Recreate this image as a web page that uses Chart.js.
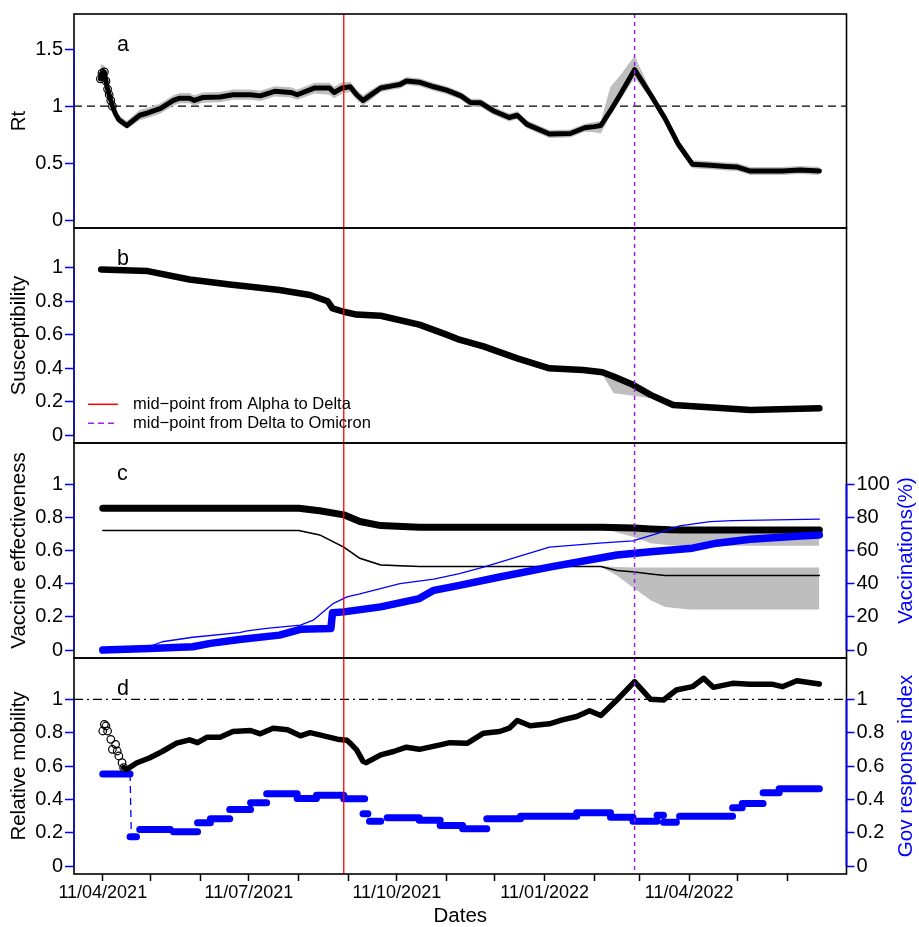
<!DOCTYPE html>
<html>
<head>
<meta charset="utf-8">
<title>Rt, susceptibility, vaccination and mobility</title>
<script src="https://cdn.jsdelivr.net/npm/chart.js@4.4.0/dist/chart.umd.min.js"></script>
<style>
  body { margin: 0; background: #fff; width: 919px; height: 927px; overflow: hidden; position: relative; }
  canvas { position: absolute; left: 0; }
</style>
</head>
<body>
<canvas id="panelA" width="919" height="243" style="top:0px"></canvas>
<canvas id="panelB" width="919" height="245" style="top:213px"></canvas>
<canvas id="panelC" width="919" height="245" style="top:428px"></canvas>
<canvas id="panelD" width="919" height="284" style="top:643px"></canvas>
<script>
const FONT = "'Liberation Sans', Arial, Helvetica, sans-serif";
Chart.defaults.font.family = FONT;
Chart.defaults.color = "#000";

const BLUE = "#0000FF", GREY = "#BEBEBE", PURPLE = "#A020F0";

// x axis: days since 11/04/2021
const X_MIN = -17.9, X_MAX = 462.9;
const tickDays = [0, 30, 61, 91, 122, 153, 183, 214, 244, 275, 306, 334, 365, 395, 426];
const tickLabels = ["11/04/2021", "", "", "11/07/2021", "", "", "11/10/2021", "", "",
    "11/01/2022", "", "", "11/04/2022", "", ""];

// variant mid-points
const alphaDeltaDay = 150;
const deltaOmicronDay = 331;

// a: Rt
const rtDays = [-1.5, -0.5, 0, 1, 2, 3, 4, 5, 6, 8, 10, 15, 23, 28, 36, 44, 48, 54, 57, 62, 73, 81, 92, 98, 107,
    117, 121, 132, 141, 144, 149, 154, 158, 162, 166, 173, 181, 185, 189, 197, 206, 214, 223, 229, 235, 243,
    253, 258, 264, 278, 291, 300, 306, 310, 316, 322, 331, 341, 350, 358, 367, 378, 388, 395, 403, 423, 434, 446];
const rtValues = [1.24, 1.29, 1.27, 1.30, 1.22, 1.15, 1.10, 1.05, 1.00, 0.93, 0.88, 0.83, 0.92, 0.94, 0.98, 1.05,
    1.07, 1.07, 1.05, 1.075, 1.08, 1.10, 1.10, 1.09, 1.13, 1.12, 1.10, 1.16, 1.16, 1.12, 1.16, 1.17, 1.10, 1.05,
    1.09, 1.16, 1.18, 1.19, 1.22, 1.21, 1.17, 1.14, 1.09, 1.03, 1.03, 0.96, 0.90, 0.92, 0.84, 0.755, 0.76, 0.81,
    0.82, 0.83, 0.96, 1.10, 1.32, 1.10, 0.89, 0.67, 0.49, 0.48, 0.47, 0.465, 0.43, 0.43, 0.44, 0.43];
const rtLow = [1.20, 1.22, 1.22, 1.22, 1.16, 1.10, 1.05, 1.00, 0.96, 0.89, 0.845, 0.80, 0.875, 0.895, 0.935,
    1.005, 1.025, 1.025, 1.005, 1.03, 1.035, 1.055, 1.055, 1.045, 1.085, 1.075, 1.055, 1.11, 1.10, 1.07, 1.11,
    1.125, 1.055, 1.005, 1.045, 1.125, 1.145, 1.155, 1.185, 1.175, 1.135, 1.105, 1.055, 0.995, 0.995, 0.925,
    0.865, 0.885, 0.805, 0.72, 0.725, 0.775, 0.77, 0.76, 0.92, 1.05, 1.25, 1.065, 0.855, 0.635, 0.455, 0.445,
    0.435, 0.43, 0.395, 0.395, 0.405, 0.395];
const rtHigh = [1.36, 1.37, 1.36, 1.36, 1.30, 1.22, 1.16, 1.10, 1.05, 0.97, 0.92, 0.87, 0.965, 0.985, 1.025,
    1.095, 1.115, 1.115, 1.095, 1.12, 1.125, 1.145, 1.145, 1.135, 1.175, 1.165, 1.145, 1.205, 1.205, 1.17, 1.21,
    1.215, 1.145, 1.095, 1.135, 1.195, 1.215, 1.225, 1.255, 1.245, 1.205, 1.175, 1.125, 1.065, 1.065, 0.995,
    0.935, 0.955, 0.875, 0.79, 0.795, 0.845, 0.86, 0.87, 1.17, 1.27, 1.44, 1.14, 0.925, 0.705, 0.525, 0.515,
    0.505, 0.50, 0.465, 0.465, 0.475, 0.465];

// b: susceptibility
const susDays = [-1, 28, 54, 79, 92, 110, 129, 140, 143, 150, 158, 173, 197, 214, 222, 237, 258, 278, 299,
    311, 318, 330, 341, 355, 382, 403, 446];
const susValues = [0.99, 0.98, 0.93, 0.90, 0.886, 0.867, 0.837, 0.80, 0.757, 0.737, 0.72, 0.713, 0.66, 0.60,
    0.57, 0.53, 0.458, 0.399, 0.389, 0.375, 0.35, 0.30, 0.24, 0.18, 0.163, 0.15, 0.16];
const susLow = [0.98, 0.97, 0.92, 0.89, 0.876, 0.857, 0.827, 0.79, 0.743, 0.72, 0.70, 0.695, 0.64, 0.58,
    0.55, 0.51, 0.44, 0.38, 0.375, 0.362, 0.25, 0.235, 0.22, 0.17, 0.155, 0.142, 0.152];
const susHigh = [1.0, 0.99, 0.94, 0.91, 0.896, 0.877, 0.847, 0.81, 0.767, 0.745, 0.73, 0.72, 0.67, 0.61, 0.58,
    0.54, 0.466, 0.405, 0.395, 0.38, 0.36, 0.31, 0.25, 0.20, 0.175, 0.16, 0.17];

// c: vaccine effectiveness (left) and vaccinations in % (right)
const veHighDays = [0, 122, 135, 150, 160, 173, 197, 310, 331, 341, 353, 362, 446];
const veHighValues = [0.855, 0.855, 0.84, 0.815, 0.775, 0.75, 0.74, 0.74, 0.735, 0.73, 0.725, 0.724, 0.724];
const veHighLow = [0.85, 0.85, 0.835, 0.81, 0.77, 0.745, 0.735, 0.735, 0.68, 0.644, 0.632, 0.628, 0.628];
const veHighHigh = [0.86, 0.86, 0.845, 0.82, 0.78, 0.755, 0.745, 0.745, 0.743, 0.742, 0.742, 0.742, 0.742];

const veLowDays = [0, 122, 135, 150, 160, 173, 197, 310, 320, 331, 341, 350, 365, 446];
const veLowValues = [0.72, 0.72, 0.694, 0.62, 0.553, 0.513, 0.503, 0.503, 0.479, 0.47, 0.458, 0.449, 0.449, 0.449];
const veLowLow = [0.718, 0.718, 0.69, 0.615, 0.548, 0.508, 0.50, 0.50, 0.45, 0.37, 0.30, 0.26, 0.245, 0.245];
const veLowHigh = [0.722, 0.722, 0.698, 0.625, 0.558, 0.518, 0.506, 0.506, 0.50, 0.497, 0.497, 0.497, 0.497, 0.497];

const vaxThinDays = [0, 29, 37, 56, 85, 90, 102, 123, 131, 143, 152, 160, 185, 206, 222, 237, 278, 309, 330,
    347, 359, 378, 392, 446];
const vaxThinValues = [0, 2, 5, 7.7, 10.5, 11.5, 13, 15, 18, 27.8, 32, 33.8, 40, 42.7, 46, 50, 62, 64.4, 65.8,
    70.8, 74.8, 77.4, 78, 78.9];
const vaxThickDays = [0, 29, 56, 67, 85, 110, 123, 142, 143, 150, 173, 197, 206, 222, 247, 278, 320, 341, 367,
    382, 403, 434, 446];
const vaxThickValues = [0, 1, 2, 4, 6.4, 9, 12.5, 13, 22.5, 23, 26, 31, 36, 39, 44, 50, 57.3, 59.3, 61.4, 64.4,
    66.8, 68.8, 69.4];

// d: relative mobility (left) and government response index (right)
const mobDays = [0, 1, 2, 3, 5, 6, 8, 9, 10, 12, 13, 15, 21, 29, 37, 46, 54, 59, 65, 73, 81, 92, 98, 106, 115,
    123, 129, 135, 146, 152, 154, 158, 162, 164, 173, 181, 189, 197, 210, 216, 227, 237, 247, 253, 258, 266,
    278, 286, 295, 303, 310, 320, 331, 341, 349, 357, 367, 374, 380, 392, 403, 417, 423, 432, 446];
const mobValues = [0.81, 0.85, 0.84, 0.81, 0.76, 0.70, 0.73, 0.69, 0.66, 0.62, 0.59, 0.58, 0.618, 0.648, 0.687,
    0.737, 0.757, 0.74, 0.773, 0.773, 0.807, 0.813, 0.793, 0.827, 0.817, 0.781, 0.80, 0.787, 0.761, 0.755,
    0.737, 0.697, 0.628, 0.62, 0.667, 0.687, 0.713, 0.70, 0.727, 0.74, 0.737, 0.797, 0.807, 0.827, 0.873,
    0.841, 0.853, 0.877, 0.897, 0.932, 0.903, 0.996, 1.106, 1.0, 0.996, 1.056, 1.076, 1.126, 1.072, 1.096,
    1.09, 1.09, 1.076, 1.112, 1.092];

// government response index, one entry per constant stretch
const govStart = [0, 17, 23, 44, 59, 67, 79, 92, 102, 121, 133, 150, 162, 166, 177, 197, 210, 224, 239, 260,
    295, 316, 330, 345, 349, 359, 392, 398, 411, 421];
const govEnd = [17, 21, 42, 59, 67, 79, 92, 102, 121, 133, 150, 163, 165, 173, 197, 210, 224, 239, 260, 295,
    316, 330, 345, 349, 357, 392, 398, 411, 421, 446];
const govLevel = [0.552, 0.175, 0.219, 0.205, 0.259, 0.283, 0.339, 0.379, 0.434, 0.405, 0.424, 0.403, 0.313,
    0.269, 0.289, 0.275, 0.243, 0.223, 0.283, 0.299, 0.319, 0.293, 0.269, 0.305, 0.263, 0.299, 0.349, 0.375,
    0.439, 0.463];

const pts = (xs, ys) => xs.map((x, i) => ({ x: x, y: ys[i] }));

// grey confidence band: lower edge, then upper edge filled down to it
const band = (xs, lo, hi, axis) => [
    { data: pts(xs, lo), yAxisID: axis, borderWidth: 0, borderColor: "rgba(0,0,0,0)", fill: false, order: 9 },
    { data: pts(xs, hi), yAxisID: axis, borderWidth: 0, borderColor: "rgba(0,0,0,0)", fill: "-1",
      backgroundColor: GREY, order: 9 }
];

const govPoints = [];
govStart.forEach((s, i) => {
    govPoints.push({ x: s, y: govLevel[i] }, { x: govEnd[i], y: govLevel[i] }, { x: govEnd[i], y: null });
});

const xAxis = (show) => ({
    type: "linear", display: show, min: X_MIN, max: X_MAX, bounds: "data",
    afterBuildTicks: (s) => { s.ticks = tickDays.map((v) => ({ value: v })); },
    afterFit: (s) => { s.height = show ? 53 : 0; },
    border: { display: false },
    grid: { drawOnChartArea: false, tickLength: 7, tickWidth: 1.5, tickColor: "#000" },
    ticks: { autoSkip: false, maxRotation: 0, padding: 1, font: { size: 18 },
             callback: (v, i) => tickLabels[i] },
    title: { display: show, text: "Dates", font: { size: 20.5, lineHeight: 1 }, padding: 0 }
});

const leftAxis = (min, max, ticks, title) => ({
    type: "linear", position: "left", min: min, max: max, bounds: "data",
    afterBuildTicks: (s) => { s.ticks = ticks.map((v) => ({ value: v })); },
    afterFit: (s) => { s.width = 74; },
    border: { display: false },
    grid: { drawOnChartArea: false, tickLength: 9, tickWidth: 1.5, tickColor: BLUE },
    ticks: { padding: 2, font: { size: 20 }, callback: (v) => String(v) },
    title: { display: true, text: title, font: { size: 20.5, lineHeight: 1 }, padding: { top: 9, bottom: 0 } }
});

const rightAxis = (min, max, ticks) => ({
    type: "linear", position: "right", min: min, max: max, bounds: "data",
    afterBuildTicks: (s) => { s.ticks = ticks.map((v) => ({ value: v })); },
    afterFit: (s) => { s.width = 72.5; },
    border: { display: false },
    grid: { drawOnChartArea: false, tickLength: 8, tickWidth: 1.5, tickColor: BLUE },
    ticks: { padding: 2, font: { size: 20 }, callback: (v) => String(v) }
});

// frame, mid-point lines, panel letters, legend and right-hand titles
const decoPlugin = {
    id: "deco",
    beforeDatasetsDraw(chart, args, o) {
        if (o.refLine == null) return;
        const { ctx, chartArea: a } = chart;
        const y = chart.scales.y.getPixelForValue(o.refLine);
        ctx.save();
        ctx.strokeStyle = "#000";
        ctx.lineWidth = 1.3;
        ctx.setLineDash(o.refDash);
        ctx.beginPath();
        ctx.moveTo(a.left, y);
        ctx.lineTo(a.right, y);
        ctx.stroke();
        ctx.restore();
    },
    afterDatasetsDraw(chart, args, o) {
        const { ctx, chartArea: a, scales } = chart;
        ctx.save();

        const xr = scales.x.getPixelForValue(alphaDeltaDay);
        ctx.strokeStyle = "#FF0000";
        ctx.lineWidth = 1.3;
        ctx.beginPath();
        ctx.moveTo(xr, a.top);
        ctx.lineTo(xr, a.bottom);
        ctx.stroke();

        const xp = scales.x.getPixelForValue(deltaOmicronDay);
        ctx.strokeStyle = PURPLE;
        ctx.lineWidth = 1.5;
        ctx.setLineDash([4, 4]);
        ctx.beginPath();
        ctx.moveTo(xp, a.top);
        ctx.lineTo(xp, a.bottom);
        ctx.stroke();
        ctx.setLineDash([]);

        ctx.strokeStyle = "#000";
        ctx.lineWidth = 1.6;
        ctx.strokeRect(a.left, a.top, a.right - a.left, a.bottom - a.top);

        const yl = scales.y;
        ctx.strokeStyle = BLUE;
        ctx.lineWidth = 1;
        ctx.beginPath();
        ctx.moveTo(a.left, yl.getPixelForValue(yl.ticks[0].value));
        ctx.lineTo(a.left, yl.getPixelForValue(yl.ticks[yl.ticks.length - 1].value));
        ctx.stroke();
        if (scales.y2) {
            const yr = scales.y2;
            ctx.lineWidth = 1.8;
            ctx.beginPath();
            ctx.moveTo(a.right, yr.getPixelForValue(yr.ticks[0].value));
            ctx.lineTo(a.right, yr.getPixelForValue(yr.ticks[yr.ticks.length - 1].value));
            ctx.stroke();
        }

        ctx.fillStyle = "#000";
        ctx.font = "21.5px " + FONT;
        ctx.textBaseline = "alphabetic";
        ctx.fillText(o.letter, a.left + 43, a.top + 37);

        if (o.rightTitle) {
            ctx.save();
            ctx.translate(906.5, (a.top + a.bottom) / 2);
            ctx.rotate(-Math.PI / 2);
            ctx.textAlign = "center";
            ctx.textBaseline = "middle";
            ctx.fillStyle = BLUE;
            ctx.font = "20.5px " + FONT;
            ctx.fillText(o.rightTitle, 0, 0);
            ctx.restore();
        }

        if (o.legend) {
            const y1 = a.top + 176.3, y2 = a.top + 195.3;
            ctx.lineWidth = 1.5;
            ctx.strokeStyle = "#FF0000";
            ctx.beginPath();
            ctx.moveTo(88, y1);
            ctx.lineTo(118, y1);
            ctx.stroke();
            ctx.strokeStyle = PURPLE;
            ctx.setLineDash([6, 4]);
            ctx.beginPath();
            ctx.moveTo(88, y2);
            ctx.lineTo(118, y2);
            ctx.stroke();
            ctx.setLineDash([]);
            ctx.fillStyle = "#000";
            ctx.font = "16.5px " + FONT;
            ctx.textBaseline = "middle";
            ctx.fillText("mid\u2212point from Alpha to Delta", 133, y1);
            ctx.fillText("mid\u2212point from Delta to Omicron", 133, y2);
        }
        ctx.restore();
    }
};

const makePanel = (id, datasets, scales, deco, padding) => new Chart(document.getElementById(id), {
    type: "line",
    data: { datasets: datasets },
    options: {
        responsive: false,
        animation: false,
        events: [],
        layout: { padding: padding },
        elements: {
            point: { radius: 0 },
            line: { tension: 0, borderCapStyle: "round", borderJoinStyle: "round" }
        },
        scales: scales,
        plugins: { legend: { display: false }, tooltip: { enabled: false }, deco: deco }
    },
    plugins: [decoPlugin]
});

const LEFT_01 = [0, 0.2, 0.4, 0.6, 0.8, 1];

// a
makePanel("panelA", [
    { data: pts(rtDays, rtValues), yAxisID: "y", borderColor: "#000", borderWidth: 5, order: 0,
      pointRadius: (c) => (c.raw && c.raw.x <= 6 ? 3.8 : 0),
      pointBorderColor: "#000", pointBackgroundColor: "rgba(0,0,0,0)", pointBorderWidth: 1.2 },
    ...band(rtDays, rtLow, rtHigh, "y")
], {
    x: xAxis(false),
    y: leftAxis(-0.07, 1.809, [0, 0.5, 1, 1.5], "Rt")
}, { letter: "a", refLine: 1, refDash: [8, 5] }, { top: 13, bottom: 15, left: 0, right: 72.5 });

// b
makePanel("panelB", [
    { data: pts(susDays, susValues), yAxisID: "y", borderColor: "#000", borderWidth: 6.5, order: 0 },
    ...band(susDays, susLow, susHigh, "y")
], {
    x: xAxis(false),
    y: leftAxis(-0.0476, 1.2376, LEFT_01, "Susceptibility")
}, { letter: "b", legend: true }, { top: 15, bottom: 15, left: 0, right: 72.5 });

// c
makePanel("panelC", [
    { data: pts(vaxThickDays, vaxThickValues), yAxisID: "y2", borderColor: BLUE, borderWidth: 7.5, order: 0 },
    { data: pts(vaxThinDays, vaxThinValues), yAxisID: "y2", borderColor: BLUE, borderWidth: 1.3, order: 1 },
    { data: pts(veHighDays, veHighValues), yAxisID: "y", borderColor: "#000", borderWidth: 7, order: 2 },
    { data: pts(veLowDays, veLowValues), yAxisID: "y", borderColor: "#000", borderWidth: 1.5, order: 3 },
    ...band(veHighDays, veHighLow, veHighHigh, "y"),
    ...band(veLowDays, veLowLow, veLowHigh, "y")
], {
    x: xAxis(false),
    y: leftAxis(-0.048, 1.248, LEFT_01, "Vaccine effectiveness"),
    y2: rightAxis(-4.8, 124.8, [0, 20, 40, 60, 80, 100])
}, { letter: "c", rightTitle: "Vaccinations(%)" }, { top: 15, bottom: 15, left: 0, right: 0 });

// d
makePanel("panelD", [
    { data: pts(mobDays, mobValues), yAxisID: "y", borderColor: "#000", borderWidth: 5.5, order: 0,
      segment: { borderColor: (c) => (c.p1.parsed.x <= 13 ? "rgba(0,0,0,0)" : "#000") },
      pointRadius: (c) => (c.raw && c.raw.x <= 13 ? 3.8 : 0),
      pointBorderColor: "#000", pointBackgroundColor: "rgba(0,0,0,0)", pointBorderWidth: 1.2 },
    { data: govPoints, yAxisID: "y2", borderColor: BLUE, borderWidth: 7, spanGaps: false, order: 1 },
    { data: [{ x: 17, y: govLevel[0] }, { x: 17.8, y: govLevel[1] }], yAxisID: "y2", borderColor: BLUE,
      borderWidth: 1.3, borderDash: [7, 5], borderCapStyle: "butt", order: 2 }
], {
    x: xAxis(true),
    y: leftAxis(-0.048, 1.248, LEFT_01, "Relative mobility"),
    y2: rightAxis(-0.048, 1.248, LEFT_01)
}, { letter: "d", refLine: 1, refDash: [9, 4, 2, 4], rightTitle: "Gov response index" },
   { top: 15, bottom: 0, left: 0, right: 0 });
</script>
</body>
</html>
